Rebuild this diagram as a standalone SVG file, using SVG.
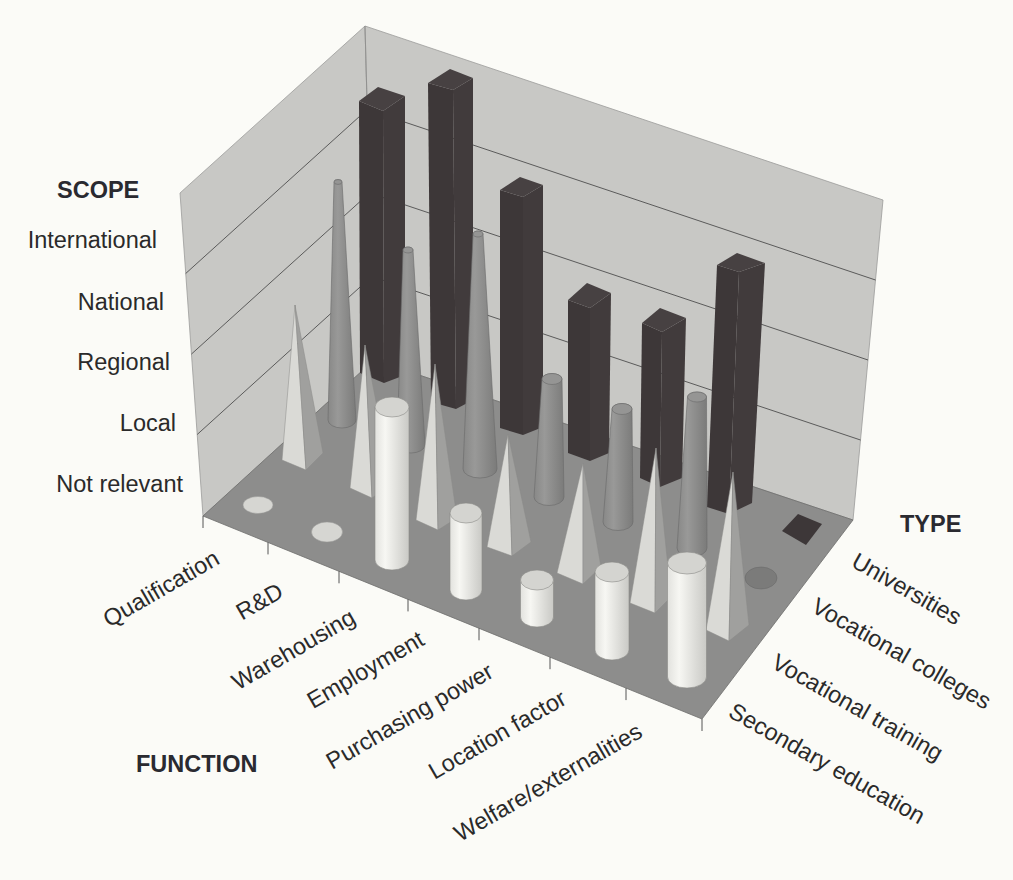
<svg xmlns="http://www.w3.org/2000/svg" width="1013" height="880" viewBox="0 0 1013 880">
<defs>
<linearGradient id="gCone" x1="0" y1="0" x2="1" y2="0">
<stop offset="0" stop-color="#888887"/><stop offset="0.35" stop-color="#999998"/><stop offset="1" stop-color="#7b7b7a"/>
</linearGradient>
<linearGradient id="gCyl" x1="0" y1="0" x2="1" y2="0">
<stop offset="0" stop-color="#e2e2de"/><stop offset="0.3" stop-color="#f7f7f3"/><stop offset="1" stop-color="#c9c9c5"/>
</linearGradient>
<style>
.wall{fill:#c8c8c5;stroke:#9c9c9a;stroke-width:0.8}
.floor{fill:#8d8d8c;stroke:#6e6e6d;stroke-width:0.8}
.grid{fill:none;stroke:#4e4e4e;stroke-width:0.9}
.tick{stroke:#555;stroke-width:1}
.bl{fill:#3d3738}.br{fill:#413b3c}.bt{fill:#474142}
.cone{fill:url(#gCone);stroke:#6a6a69;stroke-width:0.6}
.ctop{fill:#959594;stroke:#6a6a69;stroke-width:0.6}
.pl{fill:#dadad6;stroke:#8a8a88;stroke-width:0.5}
.pr{fill:#a0a09e;stroke:#8a8a88;stroke-width:0.5}
.cyl{fill:url(#gCyl);stroke:#8a8a87;stroke-width:0.6}
.cytop{fill:#d4d4d0;stroke:#8a8a87;stroke-width:0.6}
.disc{fill:#d6d6d2;stroke:#9a9a98;stroke-width:0.5}
.lbl{font-family:"Liberation Sans",Arial,sans-serif;font-size:23.5px;fill:#2a2a2a}
.hdr{font-family:"Liberation Sans",Arial,sans-serif;font-size:23.5px;font-weight:bold;fill:#2a2a30}
</style>
</defs>
<rect width="1013" height="880" fill="#fbfbf7"/>
<g id="walls">
<polygon class="wall" points="203,516 180,193 365,26 374,360"/>
<polygon class="wall" points="374,360 365,26 883,200 853,520"/>
<polyline class="grid" points="185.7,273.5 367.2,109.5 875.5,280"/>
<polyline class="grid" points="191.5,354 369.5,193 868,360"/>
<polyline class="grid" points="197.2,434.5 371.7,276.5 860.5,440"/>
<line x1="365" y1="26" x2="374" y2="360" stroke="#8a8a88" stroke-width="0.7"/>
</g>
<g id="floor">
<polygon class="floor" points="203,516 374,360 853,520 702,719"/>
<g class="tick">
<line x1="203" y1="516" x2="203" y2="528"/>
<line x1="268" y1="542.4" x2="268" y2="554.4"/>
<line x1="339" y1="571.3" x2="339" y2="583.3"/>
<line x1="408" y1="599.4" x2="408" y2="611.4"/>
<line x1="479" y1="628.3" x2="479" y2="640.3"/>
<line x1="550" y1="657.2" x2="550" y2="669.2"/>
<line x1="626" y1="688.1" x2="626" y2="700.1"/>
<line x1="702" y1="719" x2="702" y2="731"/>
</g>
</g>
<g id="objects">
<g id="bar-qualification-universities">
<polygon class="bl" points="359,101 383,111 384,383 360,373"/>
<polygon class="br" points="383,111 405,96 405,375 384,383"/>
<polygon class="bt" points="359,101 378,87 405,96 383,111"/>
</g>
<g id="bar-rd-universities">
<polygon class="bl" points="428,83 453,90 456,409 431,402"/>
<polygon class="br" points="453,90 473,78 473,400 456,409"/>
<polygon class="bt" points="428,83 450,69 473,78 453,90"/>
</g>
<g id="cone-qualification-colleges">
<path class="cone" d="M328,420 L334,182 A4 2.4 0 0 1 342,182 L356,420 A14 8 0 0 1 328,420 Z"/>
<ellipse class="ctop" cx="338" cy="182" rx="4" ry="2.4"/>
</g>
<g id="bar-warehousing-universities">
<polygon class="bl" points="500,190 523,197 523,435 500,428"/>
<polygon class="br" points="523,197 543,185 543,427 523,435"/>
<polygon class="bt" points="500,190 520,177 543,185 523,197"/>
</g>
<g id="cone-rd-colleges">
<path class="cone" d="M397,445 L403,250 A5 3 0 0 1 413,250 L425,445 A14 8 0 0 1 397,445 Z"/>
<ellipse class="ctop" cx="408" cy="250" rx="5" ry="3"/>
</g>
<g id="bar-employment-universities">
<polygon class="bl" points="568,300 590,308 590,461 568,453"/>
<polygon class="br" points="590,308 611,293 609,453 590,461"/>
<polygon class="bt" points="568,300 587,283 611,293 590,308"/>
</g>
<g id="pyr-qualification-training">
<polygon class="pl" points="295,305 282,460 306,470"/>
<polygon class="pr" points="295,305 306,470 323,453"/>
</g>
<g id="cone-warehousing-colleges">
<path class="cone" d="M463,469 L473,234 A5 3 0 0 1 483,234 L497,469 A17 9 0 0 1 463,469 Z"/>
<ellipse class="ctop" cx="478" cy="234" rx="5" ry="3"/>
</g>
<g id="bar-purchasing-universities">
<polygon class="bl" points="642,323 662,332 660,487 640,478"/>
<polygon class="br" points="662,332 686,318 682,478 660,487"/>
<polygon class="bt" points="642,323 660,308 686,318 662,332"/>
</g>
<g id="pyr-rd-training">
<polygon class="pl" points="365,345 350,488 372,498"/>
<polygon class="pr" points="365,345 372,498 392,484"/>
</g>
<g id="cone-employment-colleges">
<path class="cone" d="M534,497 L542,379 A10 5.5 0 0 1 562,379 L564,497 A15 8.5 0 0 1 534,497 Z"/>
<ellipse class="ctop" cx="552" cy="379" rx="10" ry="5.5"/>
</g>
<g id="bar-location-universities">
<polygon class="bl" points="717,265 739,272 729,514 707,507"/>
<polygon class="br" points="739,272 765,263 752,503 729,514"/>
<polygon class="bt" points="717,265 737,253 765,263 739,272"/>
</g>
<ellipse id="disc-qualification-secondary" class="disc" cx="258" cy="505" rx="15" ry="8.5"/>
<g id="pyr-warehousing-training">
<polygon class="pl" points="435,364 416,520 438,530"/>
<polygon class="pr" points="435,364 438,530 457,518"/>
</g>
<g id="cone-purchasing-colleges">
<path class="cone" d="M603,522 L612,409 A10 5.5 0 0 1 632,409 L633,522 A15 8.5 0 0 1 603,522 Z"/>
<ellipse class="ctop" cx="622" cy="409" rx="10" ry="5.5"/>
</g>
<polygon id="square-welfare-universities" points="782,531 798,514 822,524 806,545" fill="#3d3738"/>
<ellipse id="disc-rd-secondary" class="disc" cx="327" cy="532" rx="15.5" ry="10"/>
<g id="pyr-employment-training">
<polygon class="pl" points="508,434 487,547 512,556"/>
<polygon class="pr" points="508,434 512,556 531,542"/>
</g>
<g id="cone-location-colleges">
<path class="cone" d="M677,548 L687.5,397 A9.5 5 0 0 1 706.5,397 L707,548 A15 8.5 0 0 1 677,548 Z"/>
<ellipse class="ctop" cx="697" cy="397" rx="9.5" ry="5"/>
</g>
<g id="cyl-warehousing-secondary">
<path class="cyl" d="M375,407 L375,560 A17 10 0 0 0 409,560 L409,407 Z"/>
<ellipse class="cytop" cx="392" cy="407" rx="17" ry="10"/>
</g>
<g id="pyr-purchasing-training">
<polygon class="pl" points="583,463 557,573 583,584"/>
<polygon class="pr" points="583,463 583,584 601,567"/>
</g>
<ellipse id="disc-welfare-colleges" cx="761" cy="578" rx="16" ry="11" fill="#7b7b7a" stroke="#666" stroke-width="0.5"/>
<g id="cyl-employment-secondary">
<path class="cyl" d="M450,513 L450,590 A16 10 0 0 0 482,590 L482,513 Z"/>
<ellipse class="cytop" cx="466" cy="513" rx="16" ry="10"/>
</g>
<g id="pyr-location-training">
<polygon class="pl" points="656,448 630,603 655,613"/>
<polygon class="pr" points="656,448 655,613 671,597"/>
</g>
<g id="cyl-purchasing-secondary">
<path class="cyl" d="M520.5,580 L520.5,617 A16.5 10 0 0 0 553.5,617 L553.5,580 Z"/>
<ellipse class="cytop" cx="537" cy="580" rx="16.5" ry="10"/>
</g>
<g id="pyr-welfare-training">
<polygon class="pl" points="733,472 706,630 729,641"/>
<polygon class="pr" points="733,472 729,641 749,625"/>
</g>
<g id="cyl-location-secondary">
<path class="cyl" d="M595,572 L595,650 A17 10 0 0 0 629,650 L629,572 Z"/>
<ellipse class="cytop" cx="612" cy="572" rx="17" ry="10"/>
</g>
<g id="cyl-welfare-secondary">
<path class="cyl" d="M667.5,563 L667.5,677 A19.5 11 0 0 0 706.5,677 L706.5,563 Z"/>
<ellipse class="cytop" cx="687" cy="563" rx="19.5" ry="11"/>
</g>
</g>
<g id="scope-axis">
<text class="hdr" x="57" y="198">SCOPE</text>
<text class="lbl" x="157" y="248" text-anchor="end">International</text>
<text class="lbl" x="164" y="310" text-anchor="end">National</text>
<text class="lbl" x="170" y="370" text-anchor="end">Regional</text>
<text class="lbl" x="176" y="431" text-anchor="end">Local</text>
<text class="lbl" x="183" y="492" text-anchor="end">Not relevant</text>
</g>
<g id="function-axis">
<text class="hdr" x="136" y="772">FUNCTION</text>
<text class="lbl" text-anchor="end" transform="translate(221,563) rotate(-30)">Qualification</text>
<text class="lbl" text-anchor="end" transform="translate(285,596) rotate(-30)">R&amp;D</text>
<text class="lbl" text-anchor="end" transform="translate(357,622) rotate(-30)">Warehousing</text>
<text class="lbl" text-anchor="end" transform="translate(426,644) rotate(-30)">Employment</text>
<text class="lbl" text-anchor="end" transform="translate(495,676) rotate(-30)">Purchasing power</text>
<text class="lbl" text-anchor="end" transform="translate(568,703) rotate(-30)">Location factor</text>
<text class="lbl" text-anchor="end" transform="translate(644,736) rotate(-30)">Welfare/externalities</text>
</g>
<g id="type-axis">
<text class="hdr" x="900" y="532">TYPE</text>
<text class="lbl" transform="translate(850,566) rotate(29.5)">Universities</text>
<text class="lbl" transform="translate(810,611) rotate(29.5)">Vocational colleges</text>
<text class="lbl" transform="translate(770,667) rotate(29.5)">Vocational training</text>
<text class="lbl" transform="translate(727,716) rotate(29.5)">Secondary education</text>
</g>
</svg>
